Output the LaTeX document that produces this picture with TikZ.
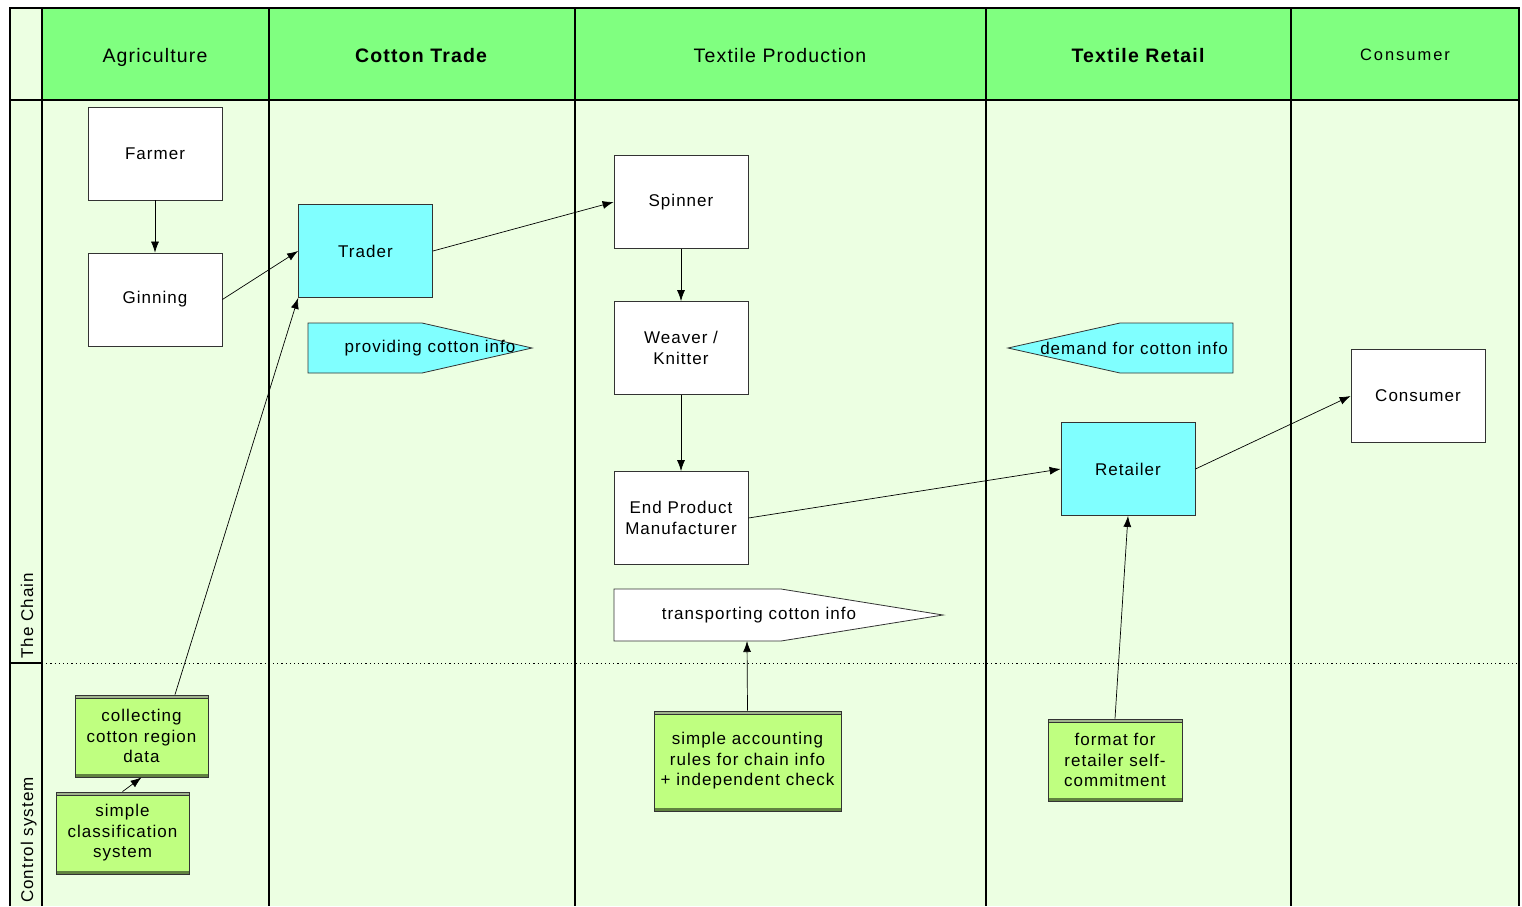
\documentclass[tikz,border=0pt]{standalone}
\usepackage{fontspec}
\setmainfont{Liberation Sans}
\newfontfamily\boxfont[LetterSpace=6]{Liberation Sans}
\newfontfamily\widefont[LetterSpace=12]{Liberation Sans}
\usetikzlibrary{arrows.meta}

\definecolor{headgreen}{RGB}{128,255,128}
\definecolor{lanegreen}{RGB}{236,255,226}
\definecolor{infocyan}{RGB}{128,255,255}
\definecolor{ctrlgreen}{RGB}{191,255,128}
\definecolor{ctrledge}{RGB}{96,130,64}

\begin{document}
\begin{tikzpicture}[x=1pt, y=-1pt,
    lane/.style={line width=1.6pt},
    lanehead/.style={font=\boxfont\fontsize{19.5}{22}\selectfont, text depth=0pt},
    actor/.style={draw=black!80, line width=0.8pt, fill=white, minimum width=134pt, minimum height=93pt,
        inner sep=0pt, align=center, font=\boxfont\fontsize{17}{20.5}\selectfont},
    trader/.style={actor, fill=infocyan},
    ctrl/.style={draw=black!80, line width=0.8pt, fill=ctrlgreen, inner sep=0pt, align=center,
        font=\boxfont\fontsize{17}{20.5}\selectfont,
        path picture={
            \fill[ctrledge!60] (path picture bounding box.north west) rectangle ([yshift=-3pt]path picture bounding box.north east);
            \draw[black!80, line width=0.6pt] ([yshift=-3pt]path picture bounding box.north west) -- ([yshift=-3pt]path picture bounding box.north east);
            \fill[ctrledge] (path picture bounding box.south west) rectangle ([yshift=3pt]path picture bounding box.south east);
        }},
    info/.style={draw=black!80, line width=0.8pt},
    infotext/.style={inner sep=0pt, font=\boxfont\fontsize{17}{20.5}\selectfont},
    flow/.style={-{Latex[length=11pt,width=8pt]}, line width=0.7pt}]

    \useasboundingbox (0,0) rectangle (1522,906);

    % swimlanes
    \fill[white] (0,0) rectangle (1522,906);
    \fill[lanegreen] (10,8) rectangle (1519,906);
    \fill[headgreen] (42,8) rectangle (1519,100);
    \foreach \x in {42,269,575,986,1291}
        \draw[lane] (\x,8) -- (\x,906);
    \draw[lane] (10,100) -- (1519,100);
    \draw[lane] (10,663) -- (42,663);
    \draw[line width=1pt, dash pattern=on 1.2pt off 3pt] (42,663) -- (1519,663);
    \draw[line width=2.5pt] (10,906) -- (10,8) -- (1519,8) -- (1519,906);

    \node[lanehead] (agri) at (155,55) {Agriculture};
    \node[lanehead, font=\boxfont\bfseries\fontsize{19.5}{22}\selectfont] (trade) at (421,55) {Cotton Trade};
    \node[lanehead] (textile) at (780,55) {Textile Production};
    \node[lanehead, font=\boxfont\bfseries\fontsize{19.5}{22}\selectfont] (retail) at (1138,55) {Textile Retail};
    \node[font=\widefont\fontsize{16.5}{19}\selectfont] (cons) at (1405,55) {Consumer};

    \node[infotext, rotate=90, anchor=base west] (chain) at (33,659) {The Chain};
    \node[infotext, rotate=90, anchor=base west] (control) at (33,903) {Control system};

    % the chain
    \node[actor] (farmer) at (155,153.5) {Farmer};
    \node[actor] (ginning) at (155,299.5) {Ginning};
    \node[trader] (trader) at (365.5,251) {Trader};
    \node[actor] (spinner) at (681,202) {Spinner};
    \node[actor] (weaver) at (681,348) {Weaver /\\Knitter};
    \node[actor] (endprod) at (681,518) {End Product\\Manufacturer};
    \node[trader] (retailer) at (1128,469) {Retailer};
    \node[actor] (consumer) at (1418,396) {Consumer};

    \draw[info, fill=infocyan] (308,323) -- (422,323) -- (532,348) -- (422,373) -- (308,373) -- cycle;
    \node[infotext] (provide) at (430,348) {providing cotton info};
    \draw[info, fill=infocyan] (1233,323) -- (1120,323) -- (1008,348) -- (1120,373) -- (1233,373) -- cycle;
    \node[infotext] (demand) at (1134,348) {demand for cotton info};
    \draw[info, fill=white] (614,589) -- (781,589) -- (943,615) -- (781,641) -- (614,641) -- cycle;
    \coordinate (transbase) at (747,641);
    \node[infotext] (transport) at (759,615) {transporting cotton info};

    % control system
    \node[ctrl, minimum width=133pt, minimum height=82pt] (collect) at (141.5,736) {collecting\\cotton region\\data};
    \node[ctrl, minimum width=133pt, minimum height=82pt] (classify) at (122.5,833) {simple\\classification\\system};
    \node[ctrl, minimum width=187pt, minimum height=100pt] (account) at (747.5,761) {simple accounting\\rules for chain info\\+ independent check};
    \node[ctrl, minimum width=134pt, minimum height=82pt] (format) at (1115,760) {format for\\retailer self-\\commitment};

    \draw[flow] (farmer) -- (ginning);
    \draw[flow] (ginning.east) -- (trader.west);
    \draw[flow] (trader.east) -- (spinner.west);
    \draw[flow] (spinner) -- (weaver);
    \draw[flow] (weaver) -- (endprod);
    \draw[flow] (endprod.east) -- (retailer.west);
    \draw[flow] (retailer.east) -- (consumer.west);
    \draw[flow] ([xshift=33.5pt]collect.north) -- (trader.south west);
    \draw[flow] (classify.north) -- (collect.south);
    \draw[flow] (account.north) -- (transbase);
    \draw[flow] (format.north) -- (retailer.south);
\end{tikzpicture}
\end{document}
